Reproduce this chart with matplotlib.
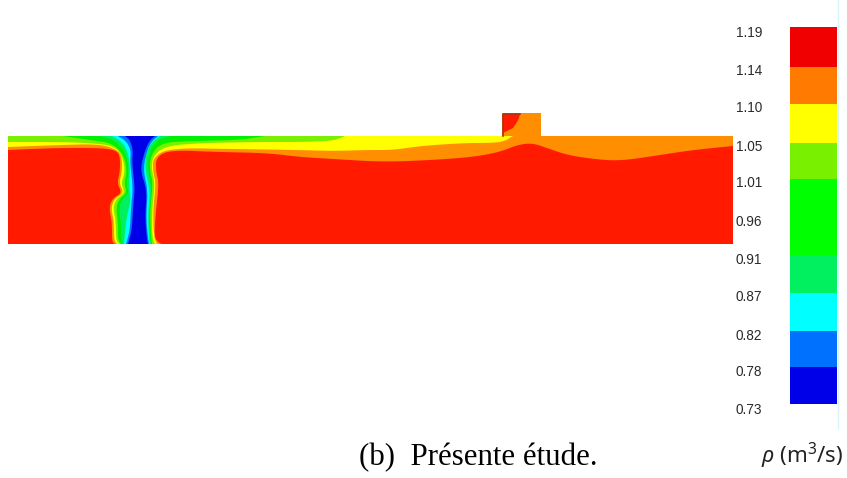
# Density field, section view with a stepped colour scale
import matplotlib
matplotlib.use("Agg")
import matplotlib.pyplot as plt

# colour scale
tick_labels = ["1.19", "1.14", "1.10", "1.05", "1.01", "0.96", "0.91", "0.87", "0.82", "0.78", "0.73"]
tick_y = [33, 71, 108, 147, 183, 222, 260, 297, 336, 372, 410]
band_edges = [27, 67, 104, 143, 179, 255, 293, 331, 367, 404]
band_colors = ["#f00000", "#ff7a00", "#ffff00", "#78f000", "#00ff00", "#00f060", "#00ffff", "#0070ff", "#0000e8"]

# channel outline and side box
channel_x = [8, 733, 733, 8]
channel_y = [136, 136, 244, 244]
box_x = [502, 541, 541, 502]
box_y = [113, 113, 137, 137]
box_red_x = [503, 520, 519, 517, 513, 503]
box_red_y = [114, 114, 118, 122, 128, 133]

# contour outlines, outermost level first
orange_x = [8, 30, 60, 100, 115, 120, 120, 117, 122, 113, 109, 112, 112, 115, 162, 159, 154, 156, 159, 156, 156, 170, 217, 267,
            300, 333, 383, 433, 473, 500, 517, 532, 547, 567, 593, 620, 660, 693, 733, 733, 8]
orange_y = [150, 149, 148, 148, 150, 155, 172, 183, 193, 198, 207, 223, 242, 244, 244, 243, 237, 210, 183, 172, 157, 150, 152, 153,
            157, 159, 162, 160, 157, 152, 145, 143, 148, 155, 159, 161, 155, 150, 146, 136, 136]

yellow_x = [8, 60, 100, 118, 122, 122, 119, 124, 115, 111, 114, 114, 117, 157, 154, 153, 156, 153, 153, 170, 233, 300, 333, 367,
            393, 413, 433, 467, 487, 503, 513, 8]
yellow_y = [147, 145, 144, 150, 158, 172, 183, 193, 198, 207, 223, 240, 244, 244, 238, 210, 183, 172, 157, 148, 149, 150, 151, 150,
            150, 147, 145, 143, 143, 142, 136, 136]

light_x = [8, 60, 90, 115, 123, 125, 121, 125, 117, 113, 116, 116, 119, 155, 152, 152, 155, 152, 152, 165, 200, 260, 300, 333, 345, 8]
light_y = [142, 142, 143, 146, 158, 172, 183, 193, 198, 207, 223, 240, 244, 244, 237, 210, 183, 172, 157, 146, 143, 142, 142, 141, 136, 136]

green_x = [63, 90, 112, 124, 127, 124, 127, 120, 116, 118, 118, 121, 152, 151, 150, 153, 150, 150, 160, 190, 240, 265]
green_y = [136, 140, 143, 155, 172, 183, 193, 198, 207, 223, 240, 244, 244, 237, 210, 183, 172, 157, 143, 141, 140, 136]

spring_x = [100, 115, 126, 129, 126, 129, 123, 119, 121, 121, 123, 151, 150, 149, 152, 148, 148, 155, 170]
spring_y = [136, 140, 153, 172, 183, 193, 198, 207, 223, 240, 244, 244, 237, 212, 186, 170, 157, 141, 136]

cyan_x = [112, 122, 127, 130, 129, 131, 127, 125, 124, 150, 149, 148, 150, 145, 146, 152, 160]
cyan_y = [136, 142, 150, 163, 188, 200, 215, 232, 244, 244, 238, 215, 190, 170, 152, 142, 136]

azure_x = [118, 126, 131, 130, 133, 131, 130, 126, 149, 148, 146, 148, 143, 147, 152, 158]
azure_y = [136, 141, 150, 163, 188, 207, 230, 244, 244, 238, 217, 190, 170, 150, 141, 136]

blue_x = [125, 130, 133, 132, 135, 133, 132, 128, 148, 147, 145, 147, 140, 145, 150, 155]
blue_y = [136, 140, 150, 163, 188, 207, 230, 244, 244, 240, 217, 190, 170, 150, 140, 136]

domain_red = "#ff1a00"
domain_orange = "#ff8f00"


# round off a contour, leaving the points on the channel walls where they are
def smooth(xs, ys, passes=3):
    pts = list(zip(xs, ys))
    on_wall = [i for i, (x, y) in enumerate(pts) if y in (136, 244) or x in (8, 733)]
    out = []
    for a, b in zip(on_wall[:-1], on_wall[1:]):
        run = pts[a:b + 1]
        for _ in range(passes):
            new = [run[0]]
            for p, q in zip(run[:-1], run[1:]):
                new.append((0.75 * p[0] + 0.25 * q[0], 0.75 * p[1] + 0.25 * q[1]))
                new.append((0.25 * p[0] + 0.75 * q[0], 0.25 * p[1] + 0.75 * q[1]))
            new.append(run[-1])
            run = new
        out.extend(run)
    return [p[0] for p in out], [p[1] for p in out]


fig = plt.figure(figsize=(8.47, 4.78), dpi=100)
ax = fig.add_axes([0, 0, 1, 1])
ax.set_xlim(0, 847)
ax.set_ylim(478, 0)
ax.axis("off")

# channel and side box
ax.fill(channel_x, channel_y, color=domain_red, lw=0)
ax.fill(box_x, box_y, color=domain_orange, lw=0)
ax.plot([502.5, 502.5, 520], [136, 113.5, 113.5], color="#b03010", lw=1.2)
ax.fill(box_red_x, box_red_y, color=domain_red, lw=0)

# nested contour levels
levels = [(orange_x, orange_y, domain_orange), (yellow_x, yellow_y, "#ffff00"), (light_x, light_y, "#78f000"),
          (green_x, green_y, "#00f000"), (spring_x, spring_y, "#00f060"), (cyan_x, cyan_y, "#00ffff"),
          (azure_x, azure_y, "#0070ff"), (blue_x, blue_y, "#0000e8")]
for xs, ys, c in levels:
    sx, sy = smooth(xs, ys)
    ax.fill(sx, sy, color=c, lw=0)

# colour bar
for i, c in enumerate(band_colors):
    ax.bar(813.5, band_edges[i + 1] - band_edges[i], width=47, bottom=band_edges[i], color=c, lw=0)
ax.plot([838, 838], [0, 428], color="#d8f4fa", lw=1)

for lab, y in zip(tick_labels, tick_y):
    ax.text(736, y, lab, fontsize=9.8, family="Liberation Sans", color="#2a2a2a", ha="left", va="center")

# captions
ax.text(359, 465, "(b)  Présente étude.", fontsize=22.2, family="Liberation Serif", color="black", ha="left", va="baseline")
plt.rcParams["mathtext.fontset"] = "custom"
plt.rcParams["mathtext.it"] = "Noto Sans:italic"
plt.rcParams["mathtext.rm"] = "Noto Sans"
ax.text(761, 463, r"$\rho$ (m$^3$/s)", fontsize=16, family="Noto Sans", color="#222222", ha="left", va="baseline")

fig.savefig("out.png", dpi=100)
